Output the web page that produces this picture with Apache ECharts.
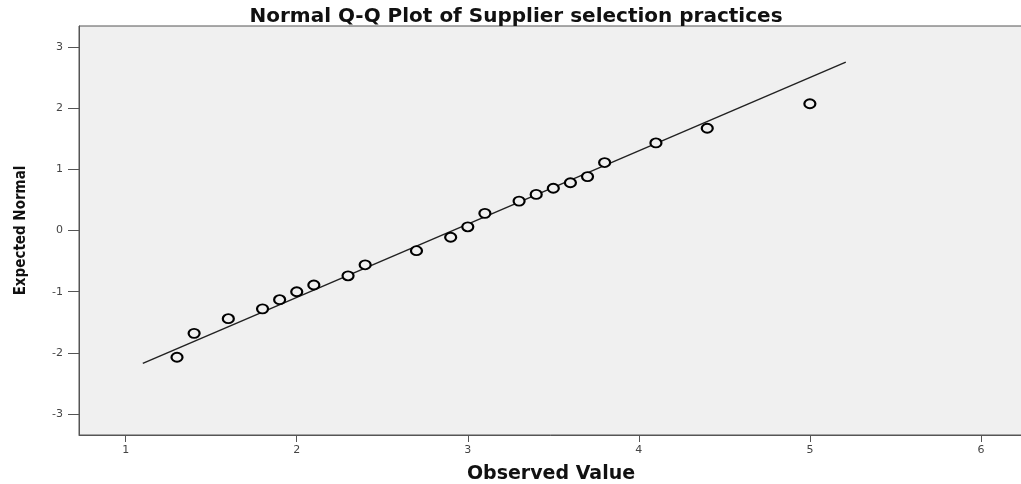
<!DOCTYPE html>
<html>
<head>
<meta charset="utf-8">
<script src="https://cdn.jsdelivr.net/npm/echarts@6/dist/echarts.min.js"></script>
<style>
  html, body { margin: 0; padding: 0; background: #fff; }
  #chart { width: 1021px; height: 484px; }
</style>
</head>
<body>
<div id="chart"></div>
<script>
// observed values and their expected normal scores
var observed = [1.3, 1.4, 1.6, 1.8, 1.9, 2.0, 2.1, 2.3, 2.4, 2.7, 2.9, 3.0, 3.1, 3.3, 3.4, 3.5, 3.6, 3.7, 3.8, 4.1, 4.4, 5.0];
var expected = [-2.07, -1.68, -1.44, -1.28, -1.13, -1.0, -0.89, -0.74, -0.56, -0.33, -0.11, 0.06, 0.28, 0.48, 0.59, 0.69, 0.78, 0.88, 1.11, 1.43, 1.67, 2.07];
// reference line ends
var lineX = [1.1, 5.21];
var lineY = [-2.17, 2.75];
var xTicks = [1, 2, 3, 4, 5, 6];
var yTicks = [-3, -2, -1, 0, 1, 2, 3];

var pts = observed.map(function (v, i) { return [v, expected[i]]; });
var linePts = lineX.map(function (v, i) { return [v, lineY[i]]; });

var chart = echarts.init(document.getElementById('chart'));
chart.setOption({
  animation: false,
  title: {
    text: 'Normal Q-Q Plot of Supplier selection practices',
    left: 511, top: 2, textAlign: 'center',
    textStyle: { fontFamily: 'DejaVu Sans', fontWeight: 'bold', fontSize: 20, color: '#111' }
  },
  grid: {
    left: 79, right: -2, top: 26, bottom: 49, outerBoundsMode: 'none',
    show: true, backgroundColor: '#f0f0f0', borderColor: '#555', borderWidth: 1
  },
  xAxis: {
    type: 'value', min: 0.727, max: 6.246,
    name: 'Observed Value', nameLocation: 'middle', nameGap: 30,
    nameTextStyle: { fontFamily: 'DejaVu Sans', fontWeight: 'bold', fontSize: 19, color: '#111' },
    axisLine: { onZero: false, lineStyle: { color: '#555', width: 1 } },
    axisTick: { show: true, inside: false, length: 7, lineStyle: { color: '#555' }, customValues: xTicks },
    axisLabel: { fontFamily: 'DejaVu Sans', fontSize: 11, color: '#444', margin: 10, customValues: xTicks, showMinLabel: true, showMaxLabel: true },
    splitLine: { show: false }
  },
  yAxis: {
    type: 'value', min: -3.34, max: 3.34,
    name: 'Expected Normal', nameLocation: 'middle', nameGap: 50, nameRotate: 90,
    nameTextStyle: { fontFamily: 'DejaVu Sans Condensed', fontWeight: 'bold', fontSize: 15, color: '#111' },
    axisLine: { show: true, onZero: false, lineStyle: { color: '#555', width: 1 } },
    axisTick: { show: true, inside: false, length: 11, lineStyle: { color: '#555' }, customValues: yTicks },
    axisLabel: { fontFamily: 'DejaVu Sans', fontSize: 11, color: '#444', margin: 16, customValues: yTicks },
    splitLine: { show: false }
  },
  series: [
    {
      type: 'line', data: linePts, showSymbol: false, symbol: 'none',
      lineStyle: { color: '#222', width: 1.5 }, silent: true, z: 2
    },
    {
      type: 'scatter', data: pts, symbol: 'circle', symbolSize: [11, 9],
      itemStyle: { color: '#f0f0f0', borderColor: '#000', borderWidth: 2, opacity: 1 }, z: 3
    }
  ]
});
</script>
</body>
</html>
